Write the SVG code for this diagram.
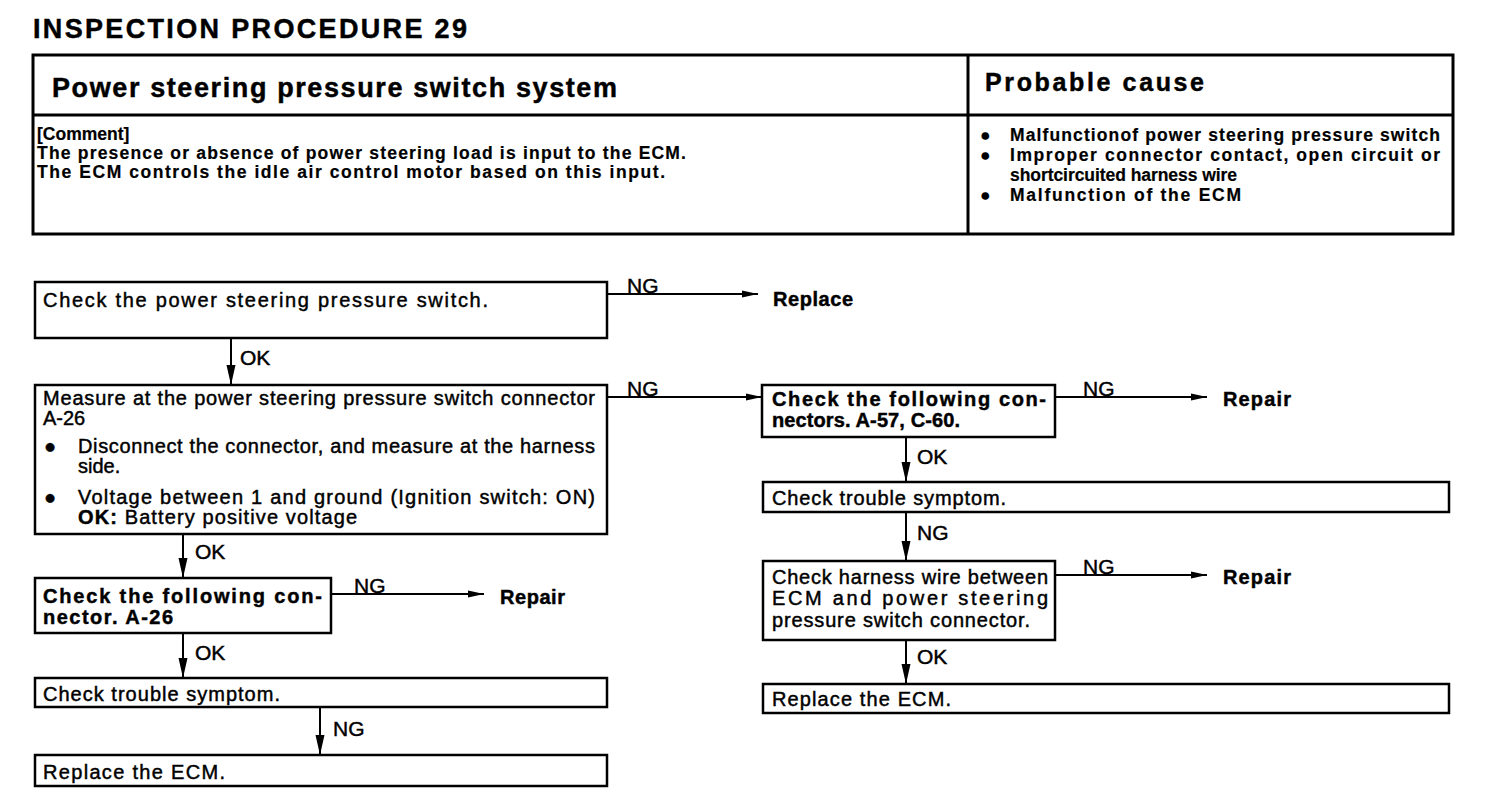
<svg xmlns="http://www.w3.org/2000/svg" width="1504" height="800" viewBox="0 0 1504 800">
<style>
text{font-family:"Liberation Sans",Arial,sans-serif;fill:#000;stroke:#000;stroke-width:0.45}
.b{font-weight:bold}
.t{font-size:20px}
.c{font-size:17.5px;font-weight:bold;stroke-width:0.2}
.lbl{font-size:21px}
.box{fill:#fff;stroke:#000;stroke-width:2.5}
.tbl{fill:none;stroke:#000;stroke-width:3}
.ln{fill:none;stroke:#000;stroke-width:2}
</style>
<defs>
<marker id="ah" viewBox="0 0 16 8" refX="16" refY="4" markerWidth="16" markerHeight="8" orient="auto" markerUnits="userSpaceOnUse"><path d="M0,0.5 L16,4 L0,7.5 z" fill="#000"/></marker>
<marker id="av" viewBox="0 0 20 10" refX="20" refY="5" markerWidth="20" markerHeight="10" orient="auto" markerUnits="userSpaceOnUse"><path d="M0,0.5 L20,5 L0,9.5 z" fill="#000"/></marker>
</defs>
<rect width="1504" height="800" fill="#fff"/>

<g id="title">
<text x="33" y="38" class="b" font-size="27" textLength="434">INSPECTION  PROCEDURE  29</text>
</g>

<g id="header-table">
<rect class="tbl" x="33" y="55" width="1420" height="179"/>
<line class="tbl" x1="33" y1="115" x2="1453" y2="115"/>
<line class="tbl" x1="968" y1="55" x2="968" y2="234"/>
<text x="52" y="97" class="b" font-size="27" textLength="565">Power steering pressure switch system</text>
<text x="985" y="91" class="b" font-size="25" textLength="219">Probable cause</text>
<text x="37" y="140" class="c">[Comment]</text>
<text x="37" y="159" class="c" textLength="649">The presence or absence of power steering load is input to the ECM.</text>
<text x="37" y="178" class="c" textLength="628">The ECM controls the idle air control motor based on this input.</text>
<text x="980" y="141" class="c">●</text>
<text x="1010" y="141" class="c" textLength="430">Malfunctionof power steering pressure switch</text>
<text x="980" y="161" class="c">●</text>
<text x="1010" y="161" class="c" textLength="430">Improper connector contact, open circuit or</text>
<text x="1010" y="181" class="c" textLength="227">shortcircuited harness wire</text>
<text x="980" y="201" class="c">●</text>
<text x="1010" y="201" class="c" textLength="231">Malfunction of the ECM</text>
</g>

<g id="connectors">
<line class="ln" x1="607" y1="294" x2="758" y2="294" marker-end="url(#ah)"/>
<text x="627" y="293" class="lbl">NG</text>
<line class="ln" x1="607" y1="397" x2="762" y2="397" marker-end="url(#ah)"/>
<text x="627" y="396" class="lbl">NG</text>
<line class="ln" x1="1055" y1="397" x2="1207" y2="397" marker-end="url(#ah)"/>
<text x="1083" y="396" class="lbl">NG</text>
<line class="ln" x1="1055" y1="575" x2="1207" y2="575" marker-end="url(#ah)"/>
<text x="1083" y="574" class="lbl">NG</text>
<line class="ln" x1="331" y1="594" x2="484" y2="594" marker-end="url(#ah)"/>
<text x="354" y="593" class="lbl">NG</text>

<line class="ln" x1="231" y1="338" x2="231" y2="385" marker-end="url(#av)"/>
<text x="240" y="365" class="lbl">OK</text>
<line class="ln" x1="183" y1="534" x2="183" y2="578" marker-end="url(#av)"/>
<text x="195" y="559" class="lbl">OK</text>
<line class="ln" x1="183" y1="633" x2="183" y2="678" marker-end="url(#av)"/>
<text x="195" y="660" class="lbl">OK</text>
<line class="ln" x1="320" y1="707" x2="320" y2="755" marker-end="url(#av)"/>
<text x="333" y="736" class="lbl">NG</text>
<line class="ln" x1="906" y1="437" x2="906" y2="482" marker-end="url(#av)"/>
<text x="917" y="464" class="lbl">OK</text>
<line class="ln" x1="906" y1="512" x2="906" y2="561" marker-end="url(#av)"/>
<text x="917" y="540" class="lbl">NG</text>
<line class="ln" x1="906" y1="640" x2="906" y2="684" marker-end="url(#av)"/>
<text x="917" y="664" class="lbl">OK</text>
</g>

<g id="replace-1">
<text x="773" y="306" class="b t" textLength="80">Replace</text>
</g>
<g id="repair-1">
<text x="1223" y="406" class="b t" textLength="68">Repair</text>
</g>
<g id="repair-2">
<text x="1223" y="584" class="b t" textLength="68">Repair</text>
</g>
<g id="repair-3">
<text x="500" y="604" class="b t" textLength="65">Repair</text>
</g>

<g id="n1">
<rect class="box" x="35" y="282" width="572" height="56"/>
<text x="43" y="307" class="t" textLength="445">Check the power steering pressure switch.</text>
</g>

<g id="n2">
<rect class="box" x="35" y="385" width="572" height="149"/>
<text x="43" y="405" class="t" textLength="552">Measure at the power steering pressure switch connector</text>
<text x="43" y="425" class="t">A-26</text>
<text x="44" y="453" class="t">●</text>
<text x="78" y="453" class="t" textLength="517">Disconnect the connector, and measure at the harness</text>
<text x="78" y="473" class="t">side.</text>
<text x="44" y="504" class="t">●</text>
<text x="78" y="504" class="t" textLength="517">Voltage between 1 and ground (Ignition switch: ON)</text>
<text x="78" y="524" class="t" textLength="279"><tspan class="b">OK:</tspan> Battery positive voltage</text>
</g>

<g id="n3">
<rect class="box" x="762" y="385" width="293" height="52"/>
<text x="772" y="406" class="b t" textLength="274">Check the following con-</text>
<text x="772" y="427" class="b t" textLength="188">nectors. A-57, C-60.</text>
</g>

<g id="n4">
<rect class="box" x="763" y="482" width="686" height="30"/>
<text x="772" y="505" class="t" textLength="234">Check trouble symptom.</text>
</g>

<g id="n5">
<rect class="box" x="763" y="561" width="292" height="79"/>
<text x="772" y="584" class="t" textLength="276">Check harness wire between</text>
<text x="772" y="605" class="t" textLength="276">ECM and power steering</text>
<text x="772" y="627" class="t" textLength="258">pressure switch connector.</text>
</g>

<g id="n6">
<rect class="box" x="763" y="684" width="686" height="29"/>
<text x="772" y="706" class="t" textLength="179">Replace the ECM.</text>
</g>

<g id="n7">
<rect class="box" x="35" y="578" width="296" height="55"/>
<text x="43" y="603" class="b t" textLength="279">Check the following con-</text>
<text x="43" y="624" class="b t" textLength="130">nector. A-26</text>
</g>

<g id="n8">
<rect class="box" x="35" y="678" width="572" height="29"/>
<text x="43" y="701" class="t" textLength="237">Check trouble symptom.</text>
</g>

<g id="n9">
<rect class="box" x="35" y="755" width="572" height="31"/>
<text x="43" y="779" class="t" textLength="182">Replace the ECM.</text>
</g>
</svg>
